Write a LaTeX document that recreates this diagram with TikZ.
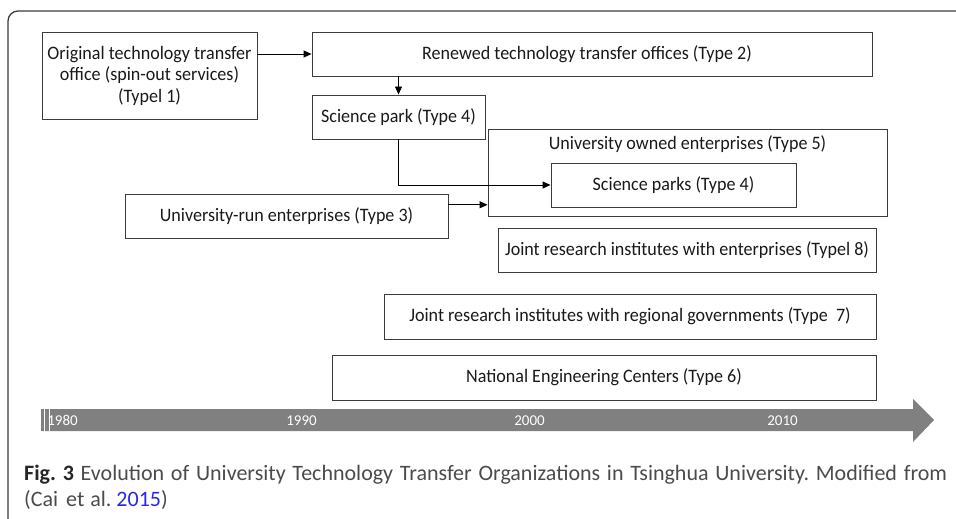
\documentclass[tikz,border=0pt]{standalone}
\usepackage{fontspec}
\setmainfont{Carlito}
\newfontfamily\boxfont[FakeStretch=0.95]{Carlito}
\usetikzlibrary{arrows.meta,calc}
\definecolor{boxline}{RGB}{60,60,60}
\definecolor{tl}{RGB}{128,128,128}
\definecolor{captxt}{RGB}{75,75,75}
\definecolor{linkblue}{RGB}{40,40,230}
\frenchspacing
\begin{document}
\begin{tikzpicture}[x=1pt,y=-1pt,
  btext/.style={font=\boxfont\fontsize{19}{21.5}\selectfont,text=black!90},
  box/.style={draw=boxline,line width=0.9pt,rectangle,inner sep=0pt,align=center,btext},
  arr/.style={draw=black,line width=0.9pt,-{Triangle[length=8pt,width=7pt]}},
  yr/.style={text=white,font=\fontsize{15}{17}\selectfont,inner sep=0pt}]
\useasboundingbox (0,0) rectangle (956,519);
% outer frame
\draw[draw=boxline,line width=1.3pt,rounded corners=10pt] (8,530) -- (8,11) -- (965,11);
% boxes
\node[box,minimum width=215pt,minimum height=87pt] (b1) at (149.5,75.5) {Original technology transfer\\office (spin-out services)\\(Typel 1)};
\node[box,minimum width=560pt,minimum height=44pt] (b2) at (592,54) {\hspace*{-10pt}Renewed technology transfer offices (Type 2)};
\node[box,minimum width=173pt,minimum height=44pt] (sp) at (398.5,117) {Science park (Type 4)};
\node[box,minimum width=399pt,minimum height=87pt] (uo) at (687.5,172.5) {};
\node[inner sep=0pt,btext] (uol) at (687.5,144) {University owned enterprises (Type 5)};
\node[box,minimum width=245pt,minimum height=44pt] (sps) at (673.5,185) {Science parks (Type 4)};
\node[box,minimum width=323pt,minimum height=44pt] (ur) at (286.5,216) {University-run enterprises (Type 3)};
\node[box,minimum width=378pt,minimum height=44pt] (je) at (687,250) {Joint research institutes with enterprises (Typel 8)};
\node[box,minimum width=492pt,minimum height=45pt] (jg) at (630,316.5) {Joint research institutes with regional governments (Type\ \ 7)};
\node[box,minimum width=544pt,minimum height=45pt] (ne) at (604,377.5) {National Engineering Centers (Type 6)};
% connectors
\draw[arr] (b1.east |- b2.west) -- (b2.west);
\draw[arr] (sp.north |- b2.south) -- (sp.north);
\draw[arr] (sp.south) |- (sps.west);
\coordinate (urp) at ($(ur.north east)!0.25!(ur.south east)$);
\draw[arr] (urp) -- (urp -| uo.west);
% timeline
\fill[tl] (41,409) -- (913,409) -- (913,399) -- (934,420) -- (913,442) -- (913,431) -- (41,431) -- cycle;
\draw[white,line width=0.5pt] (44,409) -- (44,431);
\draw[white,line width=0.5pt] (49,409) -- (49,431);
\node[yr] (y80) at (62.5,420.5) {1980};
\node[yr] (y90) at (301.5,420.5) {1990};
\node[yr] (y00) at (529.5,420.5) {2000};
\node[yr] (y10) at (782.5,420.5) {2010};
% caption
\node[anchor=north west,inner sep=0pt,text width=923pt,align=justify,text=captxt,font=\fontsize{22}{26}\selectfont] (cap) at (24,465)
{\textcolor{black!85}{\textbf{Fig. 3}} Evolution of University Technology Transfer Organizations in Tsinghua University. Modified from\linebreak (Cai\hspace{3pt} et\hspace{1pt} al. \textcolor{linkblue}{2015})};
\end{tikzpicture}
\end{document}
